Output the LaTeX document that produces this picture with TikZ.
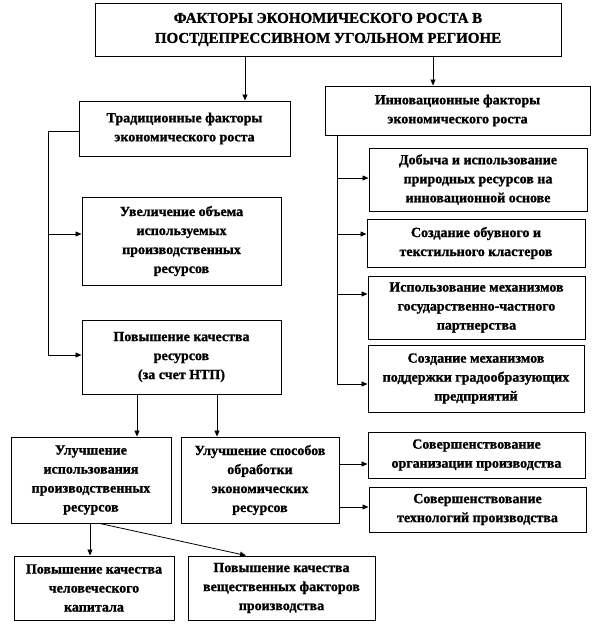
\documentclass[tikz,border=0pt]{standalone}
\usepackage{fontspec}
\setmainfont{Liberation Serif}[BoldFeatures={FakeBold=1.2}]
\usetikzlibrary{arrows.meta,calc}
\begin{document}
\begin{tikzpicture}[x=1pt,y=-1pt,
  box/.style={draw, line width=1pt, align=center, inner sep=0pt,
    font=\fontsize{14}{19}\selectfont\bfseries},
  conn/.style={line width=0.8pt},
  arr/.style={conn, -{Triangle[length=6pt,width=5pt]}}]
\useasboundingbox (0,0) rectangle (597,625);
% boxes
\node[box, minimum width=466pt, minimum height=53pt, font=\fontsize{15}{20}\selectfont\bfseries] (title) at (328,29.5)
  {ФАКТОРЫ ЭКОНОМИЧЕСКОГО РОСТА В\\ПОСТДЕПРЕССИВНОМ УГОЛЬНОМ РЕГИОНЕ};
\node[box, minimum width=211pt, minimum height=55pt] (trad) at (184.5,128.5)
  {Традиционные факторы\\экономического роста};
\node[box, minimum width=265pt, minimum height=49pt] (innov) at (457.5,110.5)
  {Инновационные факторы\\экономического роста};
\node[box, minimum width=199pt, minimum height=88pt] (uvel) at (181.5,241)
  {Увеличение объема\\используемых\\производственных\\ресурсов};
\node[box, minimum width=199pt, minimum height=74pt] (povysh) at (181.5,357)
  {Повышение качества\\ресурсов\\(за счет НТП)};
\node[box, minimum width=218pt, minimum height=63pt] (dob) at (478,179.5)
  {Добыча и использование\\природных ресурсов на\\инновационной основе};
\node[box, minimum width=218pt, minimum height=48pt] (obuv) at (476,243)
  {Создание обувного и\\текстильного кластеров};
\node[box, minimum width=217pt, minimum height=63pt] (isp) at (476.5,307.5)
  {Использование механизмов\\государственно-частного\\партнерства};
\node[box, minimum width=216pt, minimum height=67pt] (sozd) at (476,378.5)
  {Создание механизмов\\поддержки градообразующих\\предприятий};
\node[box, minimum width=160pt, minimum height=86pt] (ui) at (91,480)
  {Улучшение\\использования\\производственных\\ресурсов};
\node[box, minimum width=158pt, minimum height=86pt] (us) at (260,480)
  {Улучшение способов\\обработки\\экономических\\ресурсов};
\node[box, minimum width=217pt, minimum height=46pt] (so) at (476.5,455)
  {Совершенствование\\организации производства};
\node[box, minimum width=217pt, minimum height=45pt] (st) at (477.5,509.5)
  {Совершенствование\\технологий производства};
\node[box, minimum width=160pt, minimum height=64pt] (pchk) at (94,588)
  {Повышение качества\\человеческого\\капитала};
\node[box, minimum width=187pt, minimum height=64pt] (pvf) at (281.5,588)
  {Повышение качества\\вещественных факторов\\производства};
% column coordinates
\coordinate (cA) at (245,0);
\coordinate (cB) at (433,0);
\coordinate (cL) at (48,0);
\coordinate (cR) at (337,0);
\coordinate (cP1) at (137,0);
\coordinate (cP2) at (217,0);
\coordinate (cU) at (90,0);
\coordinate (dg) at (100,0);
\coordinate (dt) at (246,0);
% row coordinates
\coordinate (t1) at ($(trad.west)+(0,2.5)$);
\coordinate (u1) at ($(uvel.west)+(0,-7)$);
\coordinate (p1) at ($(povysh.west)+(0,-2)$);
\coordinate (d1) at ($(dob.west)+(0,-1.5)$);
\coordinate (o1) at ($(obuv.west)+(0,-9)$);
\coordinate (i1) at ($(isp.west)+(0,-13.5)$);
\coordinate (s1) at ($(sozd.west)+(0,5.5)$);
\coordinate (q1) at ($(so.west)+(0,9)$);
\coordinate (q2) at ($(st.west)+(0,-2.5)$);
% connectors
\draw[arr] (title.south -| cA) -- (trad.north -| cA);
\draw[arr] (title.south -| cB) -- (innov.north -| cB);
\draw[conn] (t1) -| (cL |- p1);
\draw[arr] (u1 -| cL) -- (u1);
\draw[arr] (p1 -| cL) -- (p1);
\draw[conn] (innov.south -| cR) -- (cR |- s1);
\draw[arr] (d1 -| cR) -- (d1);
\draw[arr] (o1 -| cR) -- (o1);
\draw[arr] (i1 -| cR) -- (i1);
\draw[arr] (s1 -| cR) -- (s1);
\draw[arr] (povysh.south -| cP1) -- (ui.north -| cP1);
\draw[arr] (povysh.south -| cP2) -- (us.north -| cP2);
\draw[arr] (q1 -| us.east) -- (q1);
\draw[arr] (q2 -| us.east) -- (q2);
\draw[arr] (ui.south -| cU) -- (pchk.north -| cU);
\draw[arr] (ui.south -| dg) -- (pvf.north -| dt);
\end{tikzpicture}
\end{document}
